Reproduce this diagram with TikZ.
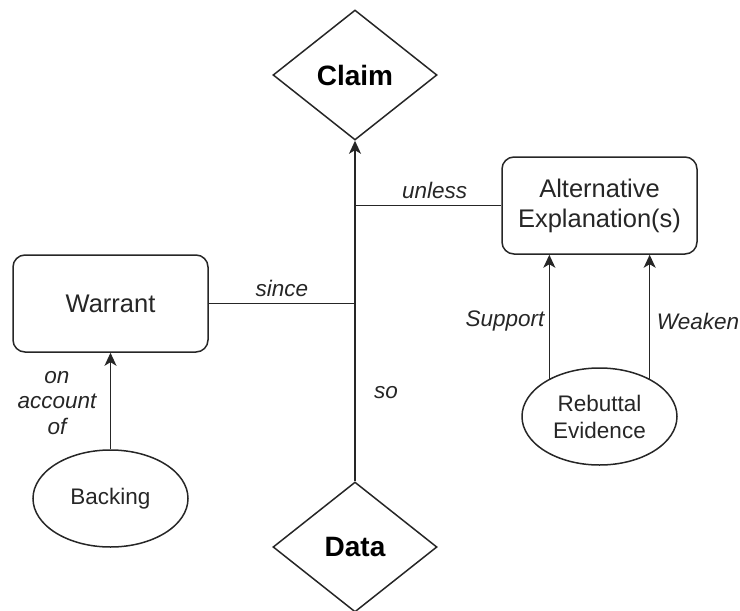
\documentclass[tikz,border=0pt]{standalone}
\usepackage{fontspec}
\setmainfont{Liberation Sans}
\usetikzlibrary{shapes.geometric,arrows.meta}

\tikzset{
  ink/.style={draw=black!85, line width=1.5pt},
  decision/.style={ink, diamond, minimum width=164pt, minimum height=130pt,
    inner sep=0pt, font=\fontsize{28}{32}\selectfont\bfseries, text=black},
  roundbox/.style={ink, rectangle, rounded corners=12pt, minimum width=195pt,
    minimum height=97pt, inner sep=0pt, align=center,
    font=\fontsize{25.5}{30}\selectfont, text=black!85},
  oval/.style={ink, ellipse, minimum width=155pt, minimum height=97pt,
    inner sep=0pt, align=center, font=\fontsize{22.5}{27}\selectfont, text=black!85},
  lbl/.style={font=\fontsize{22.5}{25.5}\selectfont\itshape, text=black!85, align=center, inner sep=2pt},
  link/.style={ink},
  arrow/.style={ink, -{Stealth[length=13pt, width=12pt, inset=3.5pt]}},
}

\begin{document}
\begin{tikzpicture}[x=1pt, y=-1pt]
\useasboundingbox (0,0) rectangle (740,611);

% argument components
\node[decision] (claim) at (355,75) {Claim};
\node[decision] (data) at (355,547) {Data};
\node[roundbox] (warrant) at (110.5,303.5) {Warrant};
\node[roundbox] (alt) at (599.5,205.5) {Alternative\\Explanation(s)};
\node[oval] (backing) at (110.5,498.5) {Backing};
\node[oval] (rebuttal) at (599.5,416.5) {Rebuttal\\Evidence};

% junctions on the data-to-claim trunk
\coordinate (jsince) at (data.north |- warrant.east);
\coordinate (junless) at (data.north |- alt.west);

% trunk and side branches
\draw[arrow] (data.north) -- (claim.south);
\draw[link] (warrant.east) -- (jsince) node[lbl, midway, above=4pt] {since};
\draw[link] (junless) -- (alt.west) node[lbl, pos=0.544, above=4pt] {unless};
\node[lbl] (so) at (386,393) {so};

% backing supports the warrant
\draw[arrow] (backing.north) -- (warrant.south);
\node[lbl] (onaccount) at (57,403) {on\\account\\of};

% rebuttal evidence feeding the alternative explanation
\coordinate (rsup) at (rebuttal.143);
\coordinate (rweak) at (rebuttal.37);
\draw[arrow] (rsup) -- (rsup |- alt.south);
\draw[arrow] (rweak) -- (rweak |- alt.south);
\node[lbl] (support) at (505,321) {Support};
\node[lbl] (weaken) at (698,321) {Weaken};
\end{tikzpicture}
\end{document}
